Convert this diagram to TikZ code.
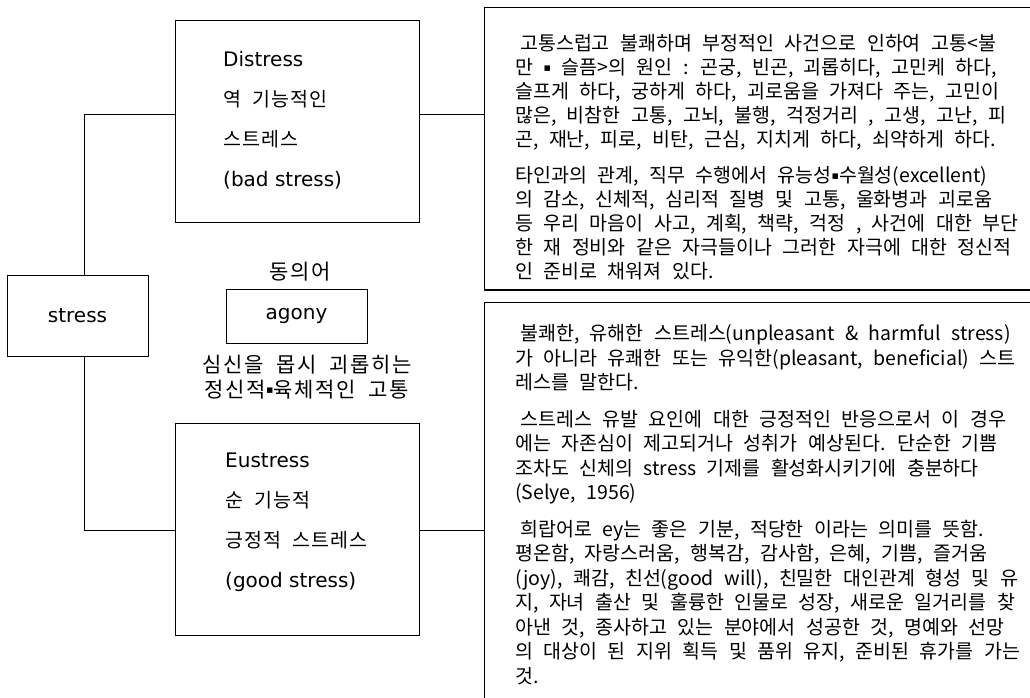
\documentclass[tikz,border=0pt]{standalone}
\usepackage{fontspec}
\setmainfont{Noto Sans CJK KR}[WordSpace=2]
\newfontfamily\rfont{Noto Sans CJK KR}[WordSpace=2.4]
\newfontfamily\lfont{Noto Sans CJK KR}[WordSpace=2, LetterSpace=6]
\newfontfamily\cfont{Noto Sans CJK KR}[WordSpace=2, LetterSpace=8]
\newfontfamily\latf{DejaVu Sans}
\newcommand{\sqd}{\raisebox{3.5pt}{\latf\fontsize{11}{11}\selectfont ▪}}
\tikzset{
  box/.style={draw, line width=1pt, inner sep=0pt},
  latnode/.style={font=\latf\fontsize{20}{24}\selectfont},
  ltext/.style={font=\lfont\fontsize{19.5}{40}\selectfont, align=left, inner sep=0pt, anchor=north west},
  rtext/.style={font=\rfont\fontsize{19.5}{24.5}\selectfont, align=left, inner sep=0pt, anchor=north west},
  ctext/.style={font=\cfont\fontsize{21}{25}\selectfont, align=center, inner sep=0pt}
}
\begin{document}
\begin{tikzpicture}[x=1pt,y=-1pt]
\fill[white] (0,0) rectangle (1030,698);
\useasboundingbox (0,0) rectangle (1030,698);
\clip (0,0) rectangle (1030,698);
% left boxes
\node[box, latnode, minimum width=141pt, minimum height=81pt] (stress) at (77.5,315.5) {stress};
\node[box, minimum width=244pt, minimum height=201pt] (distress) at (297,121.5) {};
\node[box, minimum width=244pt, minimum height=212pt] (eustress) at (297,529) {};
\node[box, latnode, minimum width=141pt, minimum height=54pt] (agony) at (296.5,316) {agony};
% box texts
\node[ltext] (distxt) at (223,51) {{\latf\fontsize{20}{40}\selectfont Distress}\\역 기능적인\\스트레스\\{\latf\fontsize{20}{40}\selectfont (bad stress)}};
\node[ltext] (eutxt) at (225,453) {{\latf\fontsize{20}{40}\selectfont Eustress}\\순 기능적\\긍정적 스트레스\\{\latf\fontsize{20}{40}\selectfont (good stress)}};
\node[ctext] (syn) at (300,272) {동의어};
\node[ctext] (agdef) at (307,377) {심신을 몹시 괴롭히는\\정신적\sqd 육체적인 고통};
% right boxes
\node[box, minimum width=560pt, minimum height=282pt, anchor=north west] (box1) at (484,7) {};
\draw[line width=1.8pt] (box1.south west) -- (box1.south east);
\node[box, minimum width=560pt, minimum height=410pt, anchor=north west] (box2) at (484,302) {};
\node[rtext, font=\rfont\fontsize{19.5}{24}\selectfont] (t1) at (515,34.25) {\hspace{5pt}고통스럽고 불쾌하며 부정적인 사건으로 인하여 고통<불\\
만 \sqd\ 슬픔>의 원인 : 곤궁, 빈곤, 괴롭히다, 고민케 하다,\\
슬프게 하다, 궁하게 하다, 괴로움을 가져다 주는, 고민이\\
많은, 비참한 고통, 고뇌, 불행, 걱정거리 , 고생, 고난, 피\\
곤, 재난, 피로, 비탄, 근심, 지치게 하다, 쇠약하게 하다.\\[12pt]
타인과의 관계, 직무 수행에서 유능성\sqd 수월성(excellent)\\
의 감소, 신체적, 심리적 질병 및 고통, 울화병과 괴로움\\
등 우리 마음이 사고, 계획, 책략, 걱정 , 사건에 대한 부단\\
한 재 정비와 같은 자극들이나 그러한 자극에 대한 정신적\\
인 준비로 채워져 있다.};
\node[rtext] (t2) at (515,324.25) {\hspace{5pt}불쾌한, 유해한 스트레스(unpleasant \& harmful stress)\\
가 아니라 유쾌한 또는 유익한(pleasant, beneficial) 스트\\
레스를 말한다.\\[12pt]
\hspace{5pt}스트레스 유발 요인에 대한 긍정적인 반응으로서 이 경우\\
에는 자존심이 제고되거나 성취가 예상된다. 단순한 기쁨\\
조차도 신체의 stress 기제를 활성화시키기에 충분하다\\
(Selye, 1956)\\[12pt]
\hspace{5pt}희랍어로 ey는 좋은 기분, 적당한 이라는 의미를 뜻함.\\
평온함, 자랑스러움, 행복감, 감사함, 은혜, 기쁨, 즐거움\\
(joy), 쾌감, 친선(good will), 친밀한 대인관계 형성 및 유\\
지, 자녀 출산 및 훌륭한 인물로 성장, 새로운 일거리를 찾\\
아낸 것, 종사하고 있는 분야에서 성공한 것, 명예와 선망\\
의 대상이 된 지위 획득 및 품위 유지, 준비된 휴가를 가는\\
것.};
% connectors
\coordinate (c1) at (84,115);
\coordinate (c2) at (84,530);
\draw[line width=1pt] (stress.north -| c1) -- (c1) -- (c1 -| distress.west);
\draw[line width=1pt] (c1 -| distress.east) -- (c1 -| box1.west);
\draw[line width=1pt] (stress.south -| c2) -- (c2) -- (c2 -| eustress.west);
\draw[line width=1pt] (c2 -| eustress.east) -- (c2 -| box2.west);
\end{tikzpicture}
\end{document}
